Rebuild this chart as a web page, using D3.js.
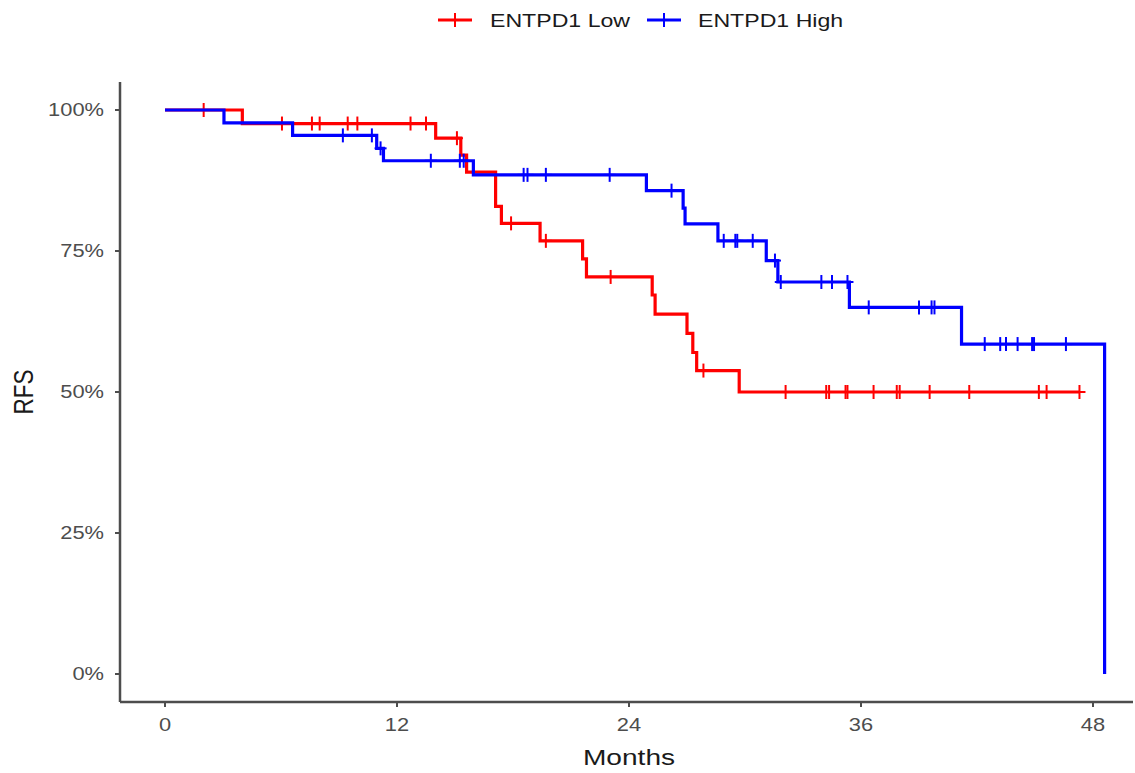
<!DOCTYPE html>
<html>
<head>
<meta charset="utf-8">
<script src="https://cdn.jsdelivr.net/npm/d3@7"></script>
<style>
  body { margin: 0; background: #fff; }
  text { font-family: "Liberation Sans", Arial, sans-serif; }
</style>
</head>
<body>
<svg id="chart" width="1135" height="773"></svg>
<script>
// Kaplan-Meier curves (months, survival %)
const groups = ["ENTPD1 Low", "ENTPD1 High"];
const colors = ["#ff0000", "#0000ff"];

const lowEventTimes = [4.0, 14.0, 15.3, 15.6, 17.1, 17.4, 19.4, 21.6, 21.8, 25.2, 25.35, 27.0, 27.3, 27.5, 29.7];
const lowSurv       = [97.6, 95.0, 92.0, 89.0, 82.9, 79.9, 76.8, 73.6, 70.4, 67.2, 63.8, 60.4, 57.0, 53.8, 50.0];
const lowCensor     = [2.0, 6.05, 7.6, 8.0, 9.45, 9.95, 12.7, 13.5, 15.1, 17.9, 19.7, 23.05, 27.85, 32.1, 34.2, 34.35,
                       35.2, 35.3, 36.65, 37.85, 38.0, 39.55, 41.6, 45.2, 45.6, 47.3];

const highEventTimes = [3.05, 6.6, 10.95, 11.3, 15.95, 24.9, 26.8, 26.9, 28.6, 31.1, 31.7, 35.4, 41.2, 48.6];
const highSurv       = [97.7, 95.5, 93.2, 91.0, 88.5, 85.7, 82.6, 79.8, 76.8, 73.3, 69.5, 65.0, 58.5, 0];
const highCensor     = [9.2, 10.7, 11.15, 13.75, 15.25, 15.45, 18.55, 18.75, 19.7, 23.0, 26.2, 28.9, 29.5, 29.6, 30.4,
                        31.55, 31.85, 33.95, 34.5, 35.3, 36.4, 39.0, 39.65, 39.8, 42.4, 43.2, 43.5, 44.1, 44.85, 44.95, 46.6];

const xTicks = [0, 12, 24, 36, 48];
const yTicks = [0, 0.25, 0.5, 0.75, 1];

const svg = d3.select("#chart");
const SX = 1.25; // the picture is stretched sideways, so is the text

// panel edges
const panel = { left: 120, right: 1133, top: 82, bottom: 702 };

const x = d3.scaleLinear().domain([0, 48]).range([165, 1093]);
const y = d3.scaleLinear().domain([0, 1]).range([674, 110]);

function stretchedText(sel, tx, ty) {
  return sel.attr("transform", `translate(${tx},${ty}) scale(${SX},1)`);
}

// --- axes ---
const axisColor = "#4d4d4d";
svg.append("line").attr("x1", panel.left).attr("x2", panel.right).attr("y1", panel.bottom).attr("y2", panel.bottom)
  .attr("stroke", axisColor).attr("stroke-width", 2.5);
svg.append("line").attr("x1", panel.left).attr("x2", panel.left).attr("y1", panel.top).attr("y2", panel.bottom)
  .attr("stroke", axisColor).attr("stroke-width", 2.5);

xTicks.forEach(t => {
  svg.append("line").attr("x1", x(t)).attr("x2", x(t)).attr("y1", panel.bottom).attr("y2", panel.bottom + 5)
    .attr("stroke", axisColor).attr("stroke-width", 2);
  stretchedText(svg.append("text"), x(t), 731)
    .attr("text-anchor", "middle").attr("font-size", 17.5).attr("fill", "#4d4d4d").text(t);
});

yTicks.forEach(t => {
  svg.append("line").attr("x1", panel.left - 5).attr("x2", panel.left).attr("y1", y(t)).attr("y2", y(t))
    .attr("stroke", axisColor).attr("stroke-width", 2);
  stretchedText(svg.append("text"), 104, y(t) + 6)
    .attr("text-anchor", "end").attr("font-size", 17.5).attr("fill", "#4d4d4d").text(d3.format(".0%")(t));
});

stretchedText(svg.append("text"), x(24), 765)
  .attr("text-anchor", "middle").attr("font-size", 22.5).attr("fill", "#1a1a1a").text("Months");

svg.append("text")
  .attr("transform", `translate(33,${y(0.5)}) scale(${SX},1) rotate(-90)`)
  .attr("text-anchor", "middle").attr("font-size", 22.5).attr("fill", "#1a1a1a").text("RFS");

// --- curves ---
const series = [
  { times: lowEventTimes, surv: lowSurv, censor: lowCensor },
  { times: highEventTimes, surv: highSurv, censor: highCensor }
];

const line = d3.line().x(d => x(d[0])).y(d => y(d[1])).curve(d3.curveStepAfter);

function survAt(s, t) {
  let v = 1;
  s.times.forEach((et, i) => { if (et <= t) v = s.surv[i] / 100; });
  return v;
}

series.forEach((s, gi) => {
  const pts = [[0, 1]].concat(s.times.map((t, i) => [t, s.surv[i] / 100]));
  const lastT = Math.max(d3.max(s.times), d3.max(s.censor));
  pts.push([lastT, survAt(s, lastT)]);

  svg.append("path").datum(pts)
    .attr("d", line)
    .attr("fill", "none")
    .attr("stroke", colors[gi])
    .attr("stroke-width", 3.2);

  const marks = svg.append("g").attr("stroke", colors[gi]).attr("stroke-width", 2);
  s.censor.forEach(t => {
    const cx = x(t), cy = y(survAt(s, t));
    marks.append("line").attr("x1", cx).attr("x2", cx).attr("y1", cy - 7).attr("y2", cy + 7);
    marks.append("line").attr("x1", cx - 6).attr("x2", cx + 6).attr("y1", cy).attr("y2", cy);
  });
});

// --- legend ---
const legendItems = [
  { x0: 438, tx: 490 },
  { x0: 647, tx: 698 }
];
legendItems.forEach((li, gi) => {
  const g = svg.append("g").attr("stroke", colors[gi]);
  g.append("line").attr("x1", li.x0).attr("x2", li.x0 + 34).attr("y1", 20).attr("y2", 20).attr("stroke-width", 3);
  g.append("line").attr("x1", li.x0 + 17).attr("x2", li.x0 + 17).attr("y1", 13).attr("y2", 27).attr("stroke-width", 2);
  stretchedText(svg.append("text"), li.tx, 27)
    .attr("font-size", 18.5).attr("fill", "#1a1a1a").text(groups[gi]);
});
</script>
</body>
</html>
